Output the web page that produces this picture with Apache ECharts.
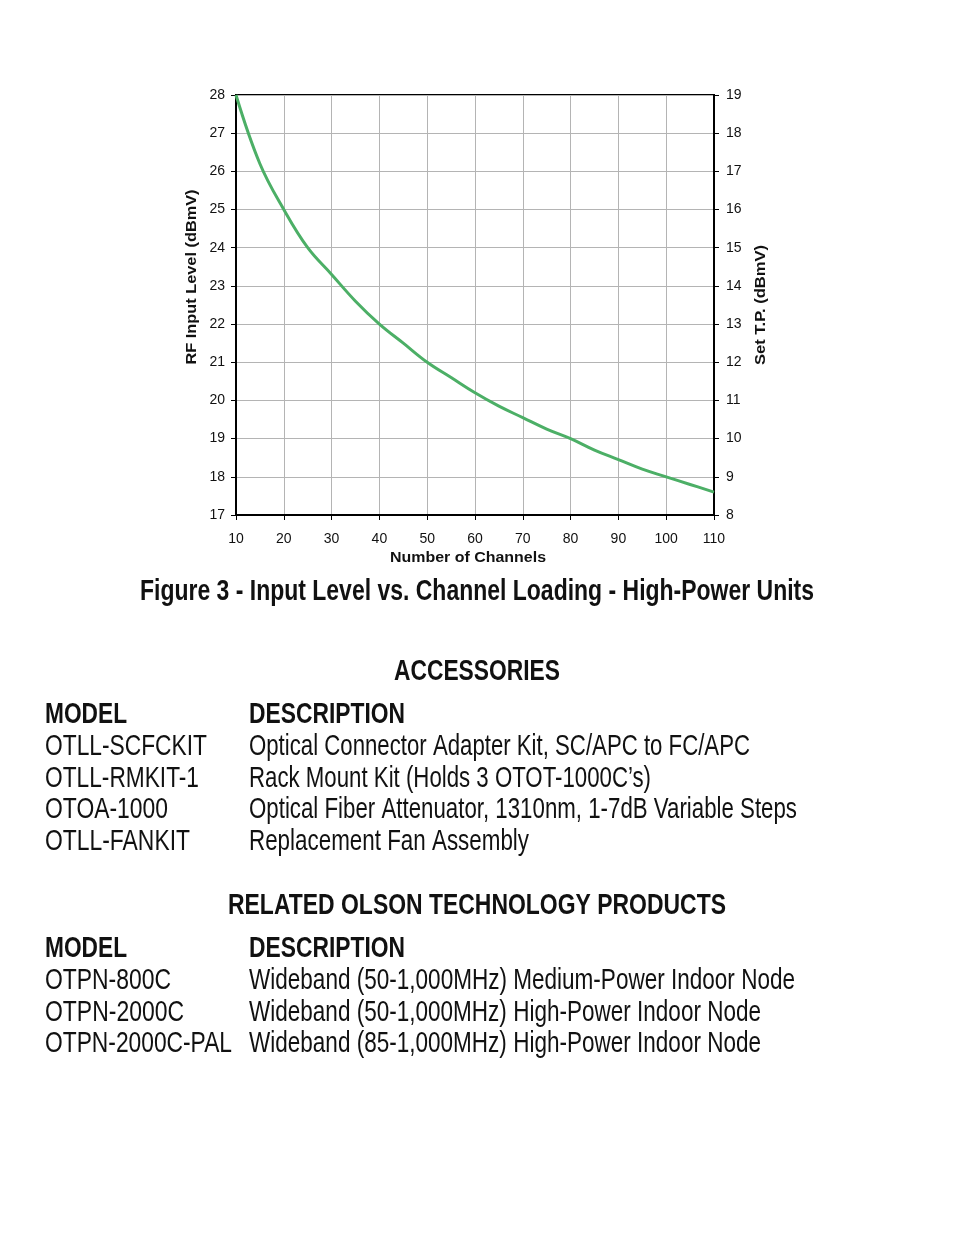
<!DOCTYPE html>
<html>
<head>
<meta charset="utf-8">
<script src="https://cdn.jsdelivr.net/npm/echarts@6/dist/echarts.min.js"></script>
<style>
  html, body { margin: 0; padding: 0; background: #fff; }
  #chart { width: 954px; height: 1235px; }
</style>
</head>
<body>
<div id="chart"></div>
<script>
// channel count on x, RF input level (dBmV) on the left axis
const channels = [10, 15, 20, 25, 30, 35, 40, 45, 50, 55, 60, 65, 70, 75, 80, 85, 90, 95, 100, 105, 110]
const rfLevel = [28.0, 26.2, 25.0, 24.0, 23.3, 22.6, 22.0, 21.5, 21.0, 20.6, 20.2, 19.85, 19.55, 19.25, 19.0, 18.7, 18.45, 18.2, 18.0, 17.8, 17.6]
const xTicks = [10, 20, 30, 40, 50, 60, 70, 80, 90, 100, 110]

const accModels = ['OTLL-SCFCKIT', 'OTLL-RMKIT-1', 'OTOA-1000', 'OTLL-FANKIT']
const accDescs = [
  'Optical Connector Adapter Kit, SC/APC to FC/APC',
  'Rack Mount Kit (Holds 3 OTOT-1000C\u2019s)',
  'Optical Fiber Attenuator, 1310nm, 1-7dB Variable Steps',
  'Replacement Fan Assembly',
]
const relModels = ['OTPN-800C', 'OTPN-2000C', 'OTPN-2000C-PAL']
const relDescs = [
  'Wideband (50-1,000MHz) Medium-Power Indoor Node',
  'Wideband (50-1,000MHz) High-Power Indoor Node',
  'Wideband (85-1,000MHz) High-Power Indoor Node',
]

// printed widths of the condensed type in the original, per line
const accModelW = [162, 154, 123, 145]
const accDescW = [501, 402, 548, 280]
const relModelW = [126, 139, 187]
const relDescW = [546, 512, 512]

const sans = 'Arial, "Liberation Sans", sans-serif'

// squeeze a line to a given width, the page uses a condensed face we don't have
const ctx = document.createElement('canvas').getContext('2d')
const txt = (x, y, text, opts = {}) => {
  const size = opts.size || 29
  const weight = opts.bold ? 'bold' : 'normal'
  let sx = 1
  if (opts.width) {
    ctx.font = weight + ' ' + size + 'px ' + sans
    sx = opts.width / ctx.measureText(text).width
  }
  return {
    type: 'text',
    x: x,
    y: y,
    rotation: opts.rotation || 0,
    scaleX: sx,
    style: {
      text: text,
      fontFamily: sans,
      fontSize: size,
      fontWeight: weight,
      fill: '#111',
      align: opts.align || 'left',
      verticalAlign: 'middle',
    },
  }
}

const graphics = [
  txt(192, 277, 'RF Input Level (dBmV)', { size: 14, bold: true, align: 'center', rotation: Math.PI / 2, width: 175 }),
  txt(761, 305, 'Set T.P. (dBmV)', { size: 14, bold: true, align: 'center', rotation: Math.PI / 2, width: 120 }),
  txt(468, 558, 'Number of Channels', { size: 15, bold: true, align: 'center', width: 156 }),
  txt(477, 592, 'Figure 3 - Input Level vs. Channel Loading - High-Power Units', { bold: true, align: 'center', width: 674 }),
  txt(477, 672, 'ACCESSORIES', { bold: true, align: 'center', width: 166 }),
  txt(45, 715, 'MODEL', { bold: true, width: 82 }),
  txt(249, 715, 'DESCRIPTION', { bold: true, width: 156 }),
  txt(477, 906, 'RELATED OLSON TECHNOLOGY PRODUCTS', { bold: true, align: 'center', width: 498 }),
  txt(45, 949, 'MODEL', { bold: true, width: 82 }),
  txt(249, 949, 'DESCRIPTION', { bold: true, width: 156 }),
]
accModels.forEach((m, i) => {
  const y = 747 + i * 31.7
  graphics.push(txt(45, y, m, { width: accModelW[i] }))
  graphics.push(txt(249, y, accDescs[i], { width: accDescW[i] }))
})
relModels.forEach((m, i) => {
  const y = 981 + i * 31.7
  graphics.push(txt(45, y, m, { width: relModelW[i] }))
  graphics.push(txt(249, y, relDescs[i], { width: relDescW[i] }))
})

const axisText = { color: '#111', fontSize: 14, fontFamily: sans, padding: [3, 0, 0, 0] }

const chart = echarts.init(document.getElementById('chart'))
chart.setOption({
  animation: false,
  grid: { left: 236, top: 95, right: 240, bottom: 720, show: true, borderColor: '#000', borderWidth: 2 },
  xAxis: {
    type: 'value',
    min: 10,
    max: 110,
    interval: 10,
    axisLine: { show: true, onZero: false, lineStyle: { color: '#000', width: 2 } },
    axisTick: { show: true, length: 5, lineStyle: { color: '#000' } },
    axisLabel: { ...axisText, margin: 14, formatter: (v) => (xTicks.includes(v) ? v : '') },
    splitLine: { show: true, lineStyle: { color: '#b4b4b4', width: 1 } },
  },
  yAxis: [
    {
      type: 'value',
      min: 17,
      max: 28,
      interval: 1,
      axisLine: { show: true, lineStyle: { color: '#000', width: 2 } },
      axisTick: { show: true, length: 5, lineStyle: { color: '#000' } },
      axisLabel: { ...axisText, margin: 11 },
      splitLine: { show: true, lineStyle: { color: '#b4b4b4', width: 1 } },
    },
    {
      type: 'value',
      position: 'right',
      min: 8,
      max: 19,
      interval: 1,
      axisLine: { show: true, lineStyle: { color: '#000', width: 2 } },
      axisTick: { show: true, length: 5, lineStyle: { color: '#000' } },
      axisLabel: { ...axisText, margin: 12 },
      splitLine: { show: false },
    },
  ],
  series: [
    {
      type: 'line',
      yAxisIndex: 0,
      smooth: 0.4,
      showSymbol: false,
      data: channels.map((c, i) => [c, rfLevel[i]]),
      lineStyle: { color: '#4caf66', width: 3 },
    },
  ],
  graphic: graphics,
})
</script>
</body>
</html>
